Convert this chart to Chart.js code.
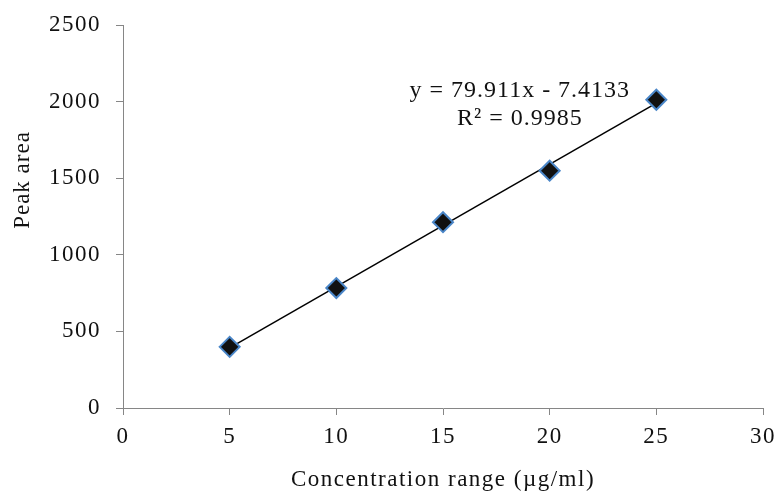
<!DOCTYPE html>
<html>
<head>
<meta charset="utf-8">
<script src="https://cdn.jsdelivr.net/npm/chart.js@4/dist/chart.umd.min.js"></script>
<style>
  body { margin: 0; background: #fff; }
  #wrap { width: 780px; height: 495px; }
</style>
</head>
<body>
<div id="wrap"><canvas id="calib-chart"></canvas></div>
<script>
// calibration data
const concentrations = [5, 10, 15, 20, 25];
const peakAreas = [399, 783, 1213, 1549, 2012];

// linear trendline
const slope = 79.911;
const intercept = -7.4133;
const rSquared = 0.9985;

const serif = "'Liberation Serif', 'Times New Roman', serif";
const axisGray = "#868686";

const points = concentrations.map((c, i) => ({ x: c, y: peakAreas[i] }));
const xFirst = concentrations[0];
const xLast = concentrations[concentrations.length - 1];
const trend = [
  { x: xFirst, y: slope * xFirst + intercept },
  { x: xLast, y: slope * xLast + intercept },
];

// slightly wider text
const spacing = {
  id: "spacing",
  beforeLayout(chart) { chart.ctx.letterSpacing = "1.5px"; },
  beforeDraw(chart) { chart.ctx.letterSpacing = "1.5px"; },
};

// equation label and y axis title
const extras = {
  id: "extras",
  afterDraw(chart) {
    const ctx = chart.ctx;
    const xs = chart.scales.x;
    const ys = chart.scales.y;
    ctx.save();
    ctx.letterSpacing = "1px";
    ctx.fillStyle = "#111";
    ctx.font = "24px " + serif;
    ctx.textAlign = "center";
    ctx.textBaseline = "alphabetic";
    const ex = xs.getPixelForValue(18.6);
    const ey = ys.getPixelForValue(2030);
    const sign = intercept < 0 ? " - " : " + ";
    ctx.fillText("y = " + slope + "x" + sign + Math.abs(intercept), ex, ey);
    ctx.fillText("R² = " + rSquared, ex, ey + 28);

    ctx.font = "23px " + serif;
    ctx.translate(23, 180);
    ctx.rotate(-Math.PI / 2);
    ctx.textBaseline = "middle";
    ctx.fillText("Peak area", 0, 0);
    ctx.restore();
  },
};

const plain = (v) => String(v);

new Chart(document.getElementById("calib-chart"), {
  type: "scatter",
  data: {
    datasets: [
      {
        data: points,
        pointStyle: "rectRot",
        pointRadius: 10,
        pointHoverRadius: 10,
        backgroundColor: "#111",
        borderColor: "#4a86c8",
        borderWidth: 2,
      },
      {
        type: "line",
        data: trend,
        borderColor: "#000",
        borderWidth: 1.5,
        pointRadius: 0,
        fill: false,
      },
    ],
  },
  options: {
    responsive: true,
    maintainAspectRatio: false,
    animation: false,
    events: [],
    layout: { padding: { top: 25, right: 17, left: 0, bottom: 0 } },
    plugins: {
      legend: { display: false },
      tooltip: { enabled: false },
    },
    scales: {
      x: {
        type: "linear",
        min: 0,
        max: 30,
        ticks: {
          stepSize: 5,
          callback: plain,
          color: "#111",
          padding: 8,
          font: { family: serif, size: 23 },
        },
        grid: {
          drawOnChartArea: false,
          drawTicks: true,
          tickLength: 7,
          color: axisGray,
        },
        border: { color: axisGray, width: 1 },
        title: {
          display: true,
          text: "Concentration range (µg/ml)",
          color: "#111",
          font: { family: serif, size: 23 },
          padding: { top: 4, bottom: 1 },
        },
        afterFit(scale) {
          scale.height = 87;
          scale.paddingLeft = 0;
          scale.paddingRight = 0;
        },
      },
      y: {
        min: 0,
        max: 2500,
        ticks: {
          stepSize: 500,
          callback: plain,
          color: "#111",
          padding: 15,
          font: { family: serif, size: 23 },
        },
        grid: {
          drawOnChartArea: false,
          drawTicks: true,
          tickLength: 7,
          color: axisGray,
        },
        border: { color: axisGray, width: 1 },
        afterFit(scale) {
          scale.width = 123;
          scale.paddingTop = 0;
          scale.paddingBottom = 0;
        },
      },
    },
  },
  plugins: [spacing, extras],
});
</script>
</body>
</html>
